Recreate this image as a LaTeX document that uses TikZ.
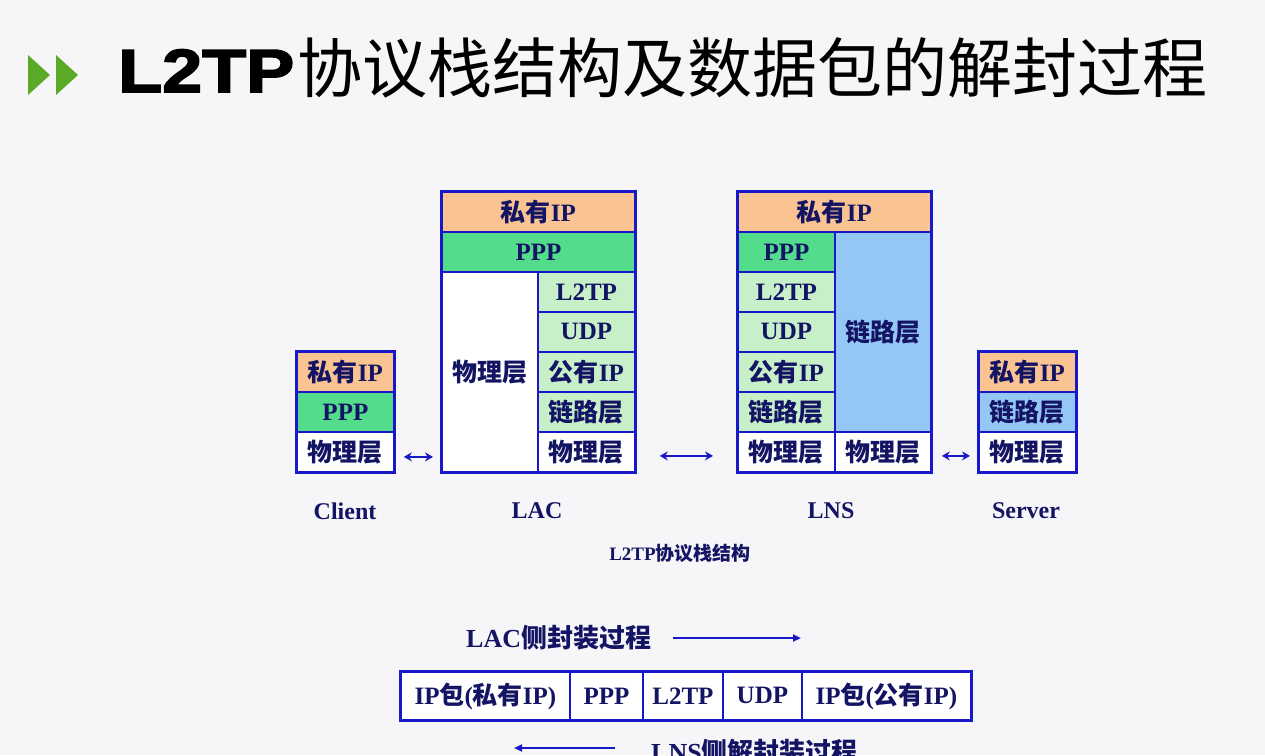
\documentclass[tikz,border=0pt]{standalone}
\usepackage{fontspec}
\setmainfont{Liberation Serif}
\newfontfamily\cjk{Noto Sans CJK SC}
\newfontfamily\heavy{Liberation Sans}[BoldFeatures={FakeBold=2.5}]
\usetikzlibrary{arrows.meta}

\definecolor{bgc}{RGB}{246,246,248}
\definecolor{lineblue}{RGB}{24,24,200}
\definecolor{navy}{RGB}{20,20,100}
\definecolor{orangef}{RGB}{249,196,146}
\definecolor{pppg}{RGB}{82,220,140}
\definecolor{lgreen}{RGB}{200,240,200}
\definecolor{lblue}{RGB}{148,198,246}
\definecolor{titlegreen}{RGB}{90,170,40}

\newcommand\zh[1]{{\cjk #1}}
\newcommand\stackfont{\fontsize{25}{28}\selectfont\bfseries}

\tikzset{
  cell/.style={draw=lineblue, line width=1.8pt, inner sep=0pt, anchor=north west,
    text=navy, font=\stackfont},
  outer/.style={draw=lineblue, line width=3pt},
  lbl/.style={inner sep=0pt, text=navy, font=\fontsize{24}{28}\selectfont\bfseries},
  dbl/.style={draw=lineblue, line width=2pt,
    {Stealth[length=8pt,width=9pt]}-{Stealth[length=8pt,width=9pt]}},
  single/.style={draw=lineblue, line width=2pt, -{Triangle[length=8pt,width=7pt]}}
}

% #1 name, #2 x, #3 y (top-left), #4 width, #5 height, #6 fill, #7 text
\newcommand\cell[7]{\node[cell, fill=#6, minimum width=#4pt, minimum height=#5pt] (#1) at (#2,#3) {#7};}

\begin{document}
\begin{tikzpicture}[x=1pt,y=-1pt]
\clip (0,0) rectangle (1265,755);
\fill[bgc] (0,0) rectangle (1265,755);

% heading
\fill[titlegreen] (28,55) -- (50,75) -- (28,95) -- cycle;
\fill[titlegreen] (56,55) -- (78,75) -- (56,95) -- cycle;
\node[anchor=base west, inner sep=0pt, font=\heavy\bfseries\fontsize{61}{70}\selectfont]
  (t1) at (118,92) {\scalebox{1.18}[1]{L2TP}};
\node[anchor=base west, inner sep=0pt, font=\cjk\fontsize{65}{76}\selectfont]
  (t2) at ([xshift=3pt]t1.base east) {协议栈结构及数据包的解封过程};

% Client stack
\cell{cip}{296}{351}{97}{40}{orangef}{\zh{私有}IP}
\cell{cppp}{296}{391}{97}{40}{pppg}{PPP}
\cell{cphy}{296}{431}{97}{40}{white}{\zh{物理层}}
\draw[outer] (cip.north west) rectangle (cphy.south east);

% LAC stack
\cell{lip}{441}{191}{193}{40}{orangef}{\zh{私有}IP}
\cell{lppp}{441}{231}{193}{40}{pppg}{PPP}
\cell{lphyL}{441}{271}{96}{200}{white}{\zh{物理层}}
\cell{ll2tp}{537}{271}{97}{40}{lgreen}{L2TP}
\cell{ludp}{537}{311}{97}{40}{lgreen}{UDP}
\cell{lpub}{537}{351}{97}{40}{lgreen}{\zh{公有}IP}
\cell{llink}{537}{391}{97}{40}{lgreen}{\zh{链路层}}
\cell{lphyR}{537}{431}{97}{40}{white}{\zh{物理层}}
\draw[outer] (lip.north west) rectangle (lphyR.south east);

% LNS stack
\cell{nip}{737}{191}{193}{40}{orangef}{\zh{私有}IP}
\cell{nppp}{737}{231}{97}{40}{pppg}{PPP}
\cell{nl2tp}{737}{271}{97}{40}{lgreen}{L2TP}
\cell{nudp}{737}{311}{97}{40}{lgreen}{UDP}
\cell{npub}{737}{351}{97}{40}{lgreen}{\zh{公有}IP}
\cell{nlink}{737}{391}{97}{40}{lgreen}{\zh{链路层}}
\cell{nphyL}{737}{431}{97}{40}{white}{\zh{物理层}}
\cell{nlinkR}{834}{231}{96}{200}{lblue}{\zh{链路层}}
\cell{nphyR}{834}{431}{96}{40}{white}{\zh{物理层}}
\draw[outer] (nip.north west) rectangle (nphyR.south east);

% Server stack
\cell{sip}{978}{351}{97}{40}{orangef}{\zh{私有}IP}
\cell{slink}{978}{391}{97}{40}{lblue}{\zh{链路层}}
\cell{sphy}{978}{431}{97}{40}{white}{\zh{物理层}}
\draw[outer] (sip.north west) rectangle (sphy.south east);

% links between stacks
\draw[dbl] ([xshift=9pt,yshift=-5pt]cphy.east) -- ([xshift=-8pt,yshift=-5pt]lphyR.west -| lphyL.west);
\draw[dbl] ([xshift=24pt,yshift=-4pt]lphyR.east) -- ([xshift=-24pt,yshift=-4pt]nphyL.west);
\draw[dbl] ([xshift=10pt,yshift=-4pt]nphyR.east) -- ([xshift=-8pt,yshift=-4pt]sphy.west);

% device names
\node[lbl] (client) at (345,511) {Client};
\node[lbl] (lac) at (537,511) {LAC};
\node[lbl] (lns) at (831,511) {LNS};
\node[lbl] (server) at (1026,511) {Server};
\node[lbl, font=\fontsize{19}{22}\selectfont\bfseries] (cap) at (680,553) {L2TP\zh{协议栈结构}};

% encapsulation
\node[lbl, anchor=west, font=\fontsize{26}{30}\selectfont\bfseries] (enc) at (466,638) {LAC\zh{侧封装过程}};
\coordinate (encEnd) at (801,638);
\draw[single] ([xshift=22pt]enc.east) -- (encEnd);

\cell{p1}{400}{671}{169}{48}{white}{IP\zh{包}(\zh{私有}IP)}
\cell{p2}{569}{671}{73}{48}{white}{PPP}
\cell{p3}{642}{671}{80}{48}{white}{L2TP}
\cell{p4}{722}{671}{79}{48}{white}{UDP}
\cell{p5}{801}{671}{169}{48}{white}{IP\zh{包}(\zh{公有}IP)}
\draw[outer] (p1.north west) rectangle (p5.south east);

\node[lbl, anchor=west, font=\fontsize{26}{30}\selectfont\bfseries] (dec) at (651,752) {LNS\zh{侧解封装过程}};
\coordinate (decEnd) at (514,748);
\draw[single] ([xshift=-36pt,yshift=4pt]dec.west) -- (decEnd);
\end{tikzpicture}
\end{document}
